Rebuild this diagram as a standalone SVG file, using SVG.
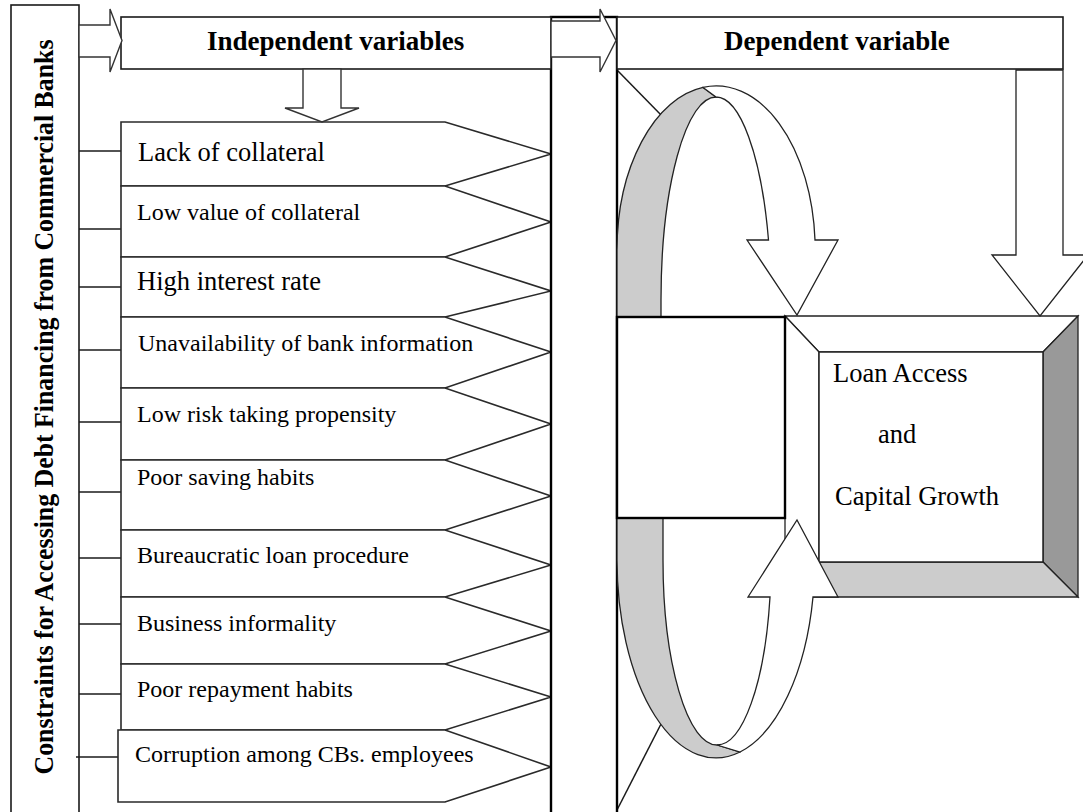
<svg xmlns="http://www.w3.org/2000/svg" width="1083" height="812" viewBox="0 0 1083 812">
<style>
.box{fill:#fff;stroke:#1a1a1a;stroke-width:1.6}
.thick{fill:#fff;stroke:#000;stroke-width:2.4}
.item{fill:#fff;stroke:#2a2a2a;stroke-width:1.6}
.arrow{fill:#fff;stroke:#333;stroke-width:1.4;stroke-linejoin:miter}
.rib{fill:#fff;stroke:#222;stroke-width:1.3}
.gray{fill:#cccccc;stroke:#222;stroke-width:1.3}
.dark{fill:#999999;stroke:#222;stroke-width:1.3}
.ln{stroke:#1a1a1a;stroke-width:1.5;fill:none}
.t{font-family:"Liberation Serif","Times New Roman",serif;font-size:24px;fill:#000}
.big{font-size:26.5px}
.h{font-family:"Liberation Serif","Times New Roman",serif;font-weight:bold;font-size:27px;fill:#000}
</style>
<rect width="1083" height="812" fill="#fff"/>

<g id="constraints">
<rect class="box" x="11" y="5" width="68" height="830"/>
<text class="h" font-size="26" transform="translate(53,407) rotate(-90)" text-anchor="middle" textLength="735" lengthAdjust="spacingAndGlyphs">Constraints for Accessing  Debt Financing from Commercial Banks</text>
</g>

<g id="connectors">
<line class="ln" x1="79" y1="151" x2="121" y2="151"/>
<line class="ln" x1="79" y1="229" x2="121" y2="229"/>
<line class="ln" x1="79" y1="287" x2="121" y2="287"/>
<line class="ln" x1="79" y1="350" x2="121" y2="350"/>
<line class="ln" x1="79" y1="422" x2="121" y2="422"/>
<line class="ln" x1="79" y1="492" x2="121" y2="492"/>
<line class="ln" x1="79" y1="558" x2="121" y2="558"/>
<line class="ln" x1="79" y1="624" x2="121" y2="624"/>
<line class="ln" x1="79" y1="694" x2="121" y2="694"/>
<line class="ln" x1="76" y1="757" x2="118" y2="757"/>
<line class="ln" x1="617" y1="70" x2="663" y2="117"/>
<line class="ln" x1="617" y1="810" x2="661" y2="724"/>
</g>

<g id="item1"><polygon class="item" points="121,122 445,122 551,154 445,186 121,186"/><text class="t big" x="138" y="161">Lack of collateral</text></g>
<g id="item2"><polygon class="item" points="121,186 445,186 551,222 445,257 121,257"/><text class="t" x="137" y="220">Low value of collateral</text></g>
<g id="item3"><polygon class="item" points="121,257 445,257 551,291 445,317 121,317"/><text class="t big" x="137" y="290">High interest rate</text></g>
<g id="item4"><polygon class="item" points="121,317 445,317 551,352 445,388 121,388"/><text class="t" x="138" y="351">Unavailability of bank information</text></g>
<g id="item5"><polygon class="item" points="121,388 445,388 551,424 445,460 121,460"/><text class="t" x="137" y="422">Low risk taking propensity</text></g>
<g id="item6"><polygon class="item" points="121,460 445,460 551,496 445,530 121,530"/><text class="t" x="137" y="485">Poor saving habits</text></g>
<g id="item7"><polygon class="item" points="121,530 445,530 551,565 445,597 121,597"/><text class="t" x="137" y="563">Bureaucratic loan procedure</text></g>
<g id="item8"><polygon class="item" points="121,597 445,597 551,631 445,664 121,664"/><text class="t" x="137" y="631">Business informality</text></g>
<g id="item9"><polygon class="item" points="121,664 445,664 551,697 445,730 121,730"/><text class="t" x="137" y="697">Poor repayment habits</text></g>
<g id="item10"><polygon class="item" points="118,730 445,730 551,767 445,802 118,802"/><text class="t" x="135" y="762">Corruption among CBs. employees</text></g>

<g id="column"><rect class="thick" x="551" y="17" width="66" height="820"/></g>

<g id="independent">
<rect class="box" x="121" y="17" width="430" height="52"/>
<text class="h" x="207" y="50">Independent variables</text>
</g>
<g id="dependent">
<rect class="box" x="617" y="17" width="446" height="52"/>
<text class="h" x="724" y="50">Dependent variable</text>
</g>

<g id="arrows">
<polygon class="arrow" points="79,25 110,25 110,9 122,40.5 110,72 110,57 79,57"/>
<polygon class="arrow" points="551,21 600,21 600,9 616,40.5 600,72 600,57 551,57"/>
<polygon class="arrow" points="303,69 341,69 341,108 359,108 322,122 285,108 303,108"/>
</g>

<g id="ribbon-back">
<path class="gray" d="M617,318 L617,250 A99,164 0 0 1 703,87.4 L716,97 A55,203 0 0 0 661,300 L661,318 Z"/>
<path class="gray" d="M617,518 L617,560 A99,198 0 0 0 740,752 L717,745 A54,185 0 0 1 663,560 L663,518 Z"/>
</g>

<g id="outcome">
<polygon fill="#fff" stroke="#222" stroke-width="1.3" points="785,316 1078,316 1043,352 819,352"/>
<polygon fill="#fff" stroke="#222" stroke-width="1.3" points="785,316 819,352 819,562 785,597"/>
<polygon class="dark" points="1043,352 1078,316 1078,597 1043,562"/>
<polygon class="gray" points="819,562 1043,562 1078,597 785,597"/>
<rect fill="#fff" stroke="#222" stroke-width="1.5" x="819" y="352" width="224" height="210"/>
<text class="t big" x="833" y="382">Loan Access</text>
<text class="t big" x="878" y="443">and</text>
<text class="t big" x="835" y="505">Capital Growth</text>
</g>

<g id="middle-box"><rect class="thick" x="617" y="317" width="168" height="201"/></g>

<g id="ribbon-front">
<path class="rib" d="M703,87.4 A99,164 0 0 1 815,240 L838,240 L797,315 L747,240 L768.5,240 A55,203 0 0 0 716,97 Z"/>
<path class="rib" d="M740,752 A99,198 0 0 0 813,597 L838,597 L797,520 L748,597 L770,597 A54,185 0 0 1 717,745 Z"/>
<polygon class="rib" points="1016,70 1063,70 1063,255 1088,255 1040,316 992,255 1016,255"/>
</g>
</svg>
